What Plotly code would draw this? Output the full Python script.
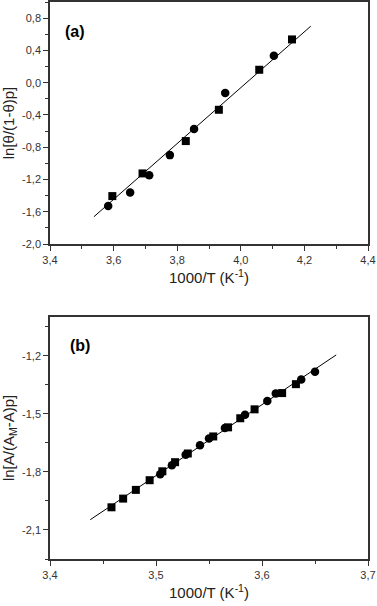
import plotly.graph_objects as go

# Panel (a) data
a_sq_x = [3.596, 3.691, 3.827, 3.931, 4.058, 4.161]
a_sq_y = [-1.406, -1.125, -0.724, -0.336, 0.160, 0.536]
a_ci_x = [3.583, 3.652, 3.712, 3.777, 3.853, 3.951, 4.104]
a_ci_y = [-1.530, -1.360, -1.149, -0.898, -0.575, -0.129, 0.333]
a_fit_x = [3.538, 4.220]
a_fit_y = [-1.662, 0.700]

# Panel (b) data
b_sq_x = [3.458, 3.469, 3.481, 3.494, 3.506, 3.518, 3.530, 3.554, 3.568, 3.5795, 3.593, 3.619, 3.632]
b_sq_y = [-1.983, -1.938, -1.893, -1.843, -1.797, -1.750, -1.705, -1.617, -1.570, -1.523, -1.477, -1.393, -1.347]
b_ci_x = [3.504, 3.515, 3.528, 3.5415, 3.550, 3.565, 3.584, 3.605, 3.613, 3.637, 3.650]
b_ci_y = [-1.812, -1.766, -1.712, -1.662, -1.628, -1.574, -1.505, -1.434, -1.395, -1.323, -1.283]
b_fit_x = [3.438, 3.670]
b_fit_y = [-2.047, -1.196]

# Tick labels
a_xticks = [3.4, 3.6, 3.8, 4.0, 4.2, 4.4]
a_xlabels = ["3,4", "3,6", "3,8", "4,0", "4,2", "4,4"]
a_yticks = [-2.0, -1.6, -1.2, -0.8, -0.4, 0.0, 0.4, 0.8]
a_ylabels = ["-2,0", "-1,6", "-1,2", "-0,8", "-0,4", "0,0", "0,4", "0,8"]
b_xticks = [3.4, 3.5, 3.6, 3.7]
b_xlabels = ["3,4", "3,5", "3,6", "3,7"]
b_yticks = [-2.1, -1.8, -1.5, -1.2]
b_ylabels = ["-2,1", "-1,8", "-1,5", "-1,2"]

FONT = "Arial, Liberation Sans, sans-serif"
INK = "#222222"

fig = go.Figure()

def add_panel(xa, ya, sqx, sqy, cix, ciy, fx, fy):
    fig.add_trace(go.Scatter(x=fx, y=fy, mode="lines", line=dict(color="black", width=1),
                             xaxis=xa, yaxis=ya, showlegend=False, hoverinfo="skip"))
    fig.add_trace(go.Scatter(x=sqx, y=sqy, mode="markers",
                             marker=dict(symbol="square", size=8, color="black"),
                             xaxis=xa, yaxis=ya, showlegend=False))
    fig.add_trace(go.Scatter(x=cix, y=ciy, mode="markers",
                             marker=dict(symbol="circle", size=8.5, color="black"),
                             xaxis=xa, yaxis=ya, showlegend=False))

add_panel("x", "y", a_sq_x, a_sq_y, a_ci_x, a_ci_y, a_fit_x, a_fit_y)
add_panel("x2", "y2", b_sq_x, b_sq_y, b_ci_x, b_ci_y, b_fit_x, b_fit_y)

common = dict(showline=True, linecolor="#333333", linewidth=1.5, mirror=True,
              ticks="outside", ticklen=5, tickwidth=1, tickcolor="#333333",
              showgrid=False, zeroline=False, automargin=False,
              tickfont=dict(family=FONT, size=11, color="#333333"))
minor = dict(ticks="outside", ticklen=3, tickwidth=1, tickcolor="#333333", showgrid=False)

xtitle = dict(text="1000/T (K<sup>-1</sup>)", font=dict(family=FONT, size=15, color=INK), standoff=8)

fig.update_layout(
    width=377, height=606,
    margin=dict(l=50, r=9, t=2, b=47),
    paper_bgcolor="white", plot_bgcolor="white",
    xaxis=dict(domain=[0, 1], anchor="y", range=[3.4, 4.4], tickvals=a_xticks, ticktext=a_xlabels,
               minor=dict(dtick=0.1, **minor), title=xtitle, **common),
    yaxis=dict(domain=[0.5655, 1.0], anchor="x", range=[-2.0, 1.0], tickvals=a_yticks, ticktext=a_ylabels,
               minor=dict(dtick=0.2, tick0=0, **minor),
               title=dict(text="ln[θ/(1-θ)p]", font=dict(family=FONT, size=15, color=INK), standoff=6),
               **common),
    xaxis2=dict(domain=[0, 1], anchor="y2", range=[3.4, 3.7], tickvals=b_xticks, ticktext=b_xlabels,
                minor=dict(dtick=0.05, tick0=3.4, **minor), title=xtitle, **common),
    yaxis2=dict(domain=[0, 0.4345], anchor="x2", range=[-2.25, -1.0], tickvals=b_yticks, ticktext=b_ylabels,
                minor=dict(dtick=0.15, tick0=-2.25, **minor),
                title=dict(text="ln[A/(A<sub>M</sub>-A)p]", font=dict(family=FONT, size=15, color=INK), standoff=6),
                **common),
    annotations=[
        dict(text="<b>(a)</b>", xref="x domain", yref="y domain", x=0.041, y=0.877,
             xanchor="left", yanchor="middle", showarrow=False, font=dict(family=FONT, size=16, color="black")),
        dict(text="<b>(b)</b>", xref="x2 domain", yref="y2 domain", x=0.057, y=0.884,
             xanchor="left", yanchor="middle", showarrow=False, font=dict(family=FONT, size=16, color="black")),
    ],
)

fig.write_html("out.html", config={"displayModeBar": False},
               post_script="document.body.style.margin='0';document.body.style.overflow='hidden';")
